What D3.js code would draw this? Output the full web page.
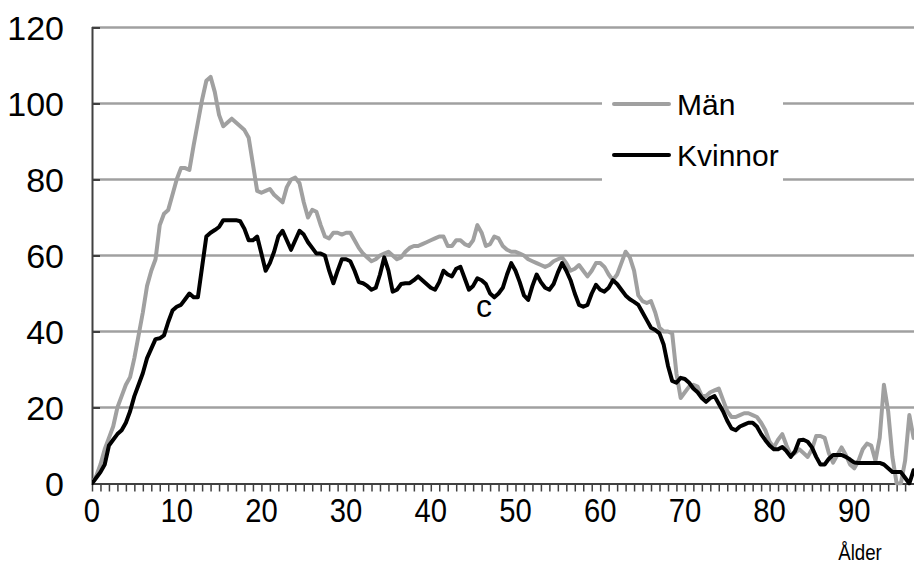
<!DOCTYPE html>
<html><head><meta charset="utf-8">
<script src="https://cdn.jsdelivr.net/npm/d3@7"></script>
<style>body{margin:0;background:#fff}svg{display:block;font-family:"Liberation Sans",Arial,sans-serif}</style>
</head><body><svg id="c" width="914" height="567"></svg>
<script>
const ageStep = 0.5;
const ages = d3.range(0, 97.01, ageStep);
const yTicks = [0, 20, 40, 60, 80, 100, 120];
const xTickLabels = [0, 10, 20, 30, 40, 50, 60, 70, 80, 90];
const seriesNames = ["Män", "Kvinnor"];
const man = [0,2,5,9,12,15,20,23,26,28,33,39,45,52,56,59,68,71,72,76,80,83,83,82.5,89,95,101,106,107,103,97,94,95,96,95,94,93,91,84,77,76.5,77,77.5,76,75,74,78,80,80.5,79,74,70,72,71.5,68,65,64.5,66,66,65.5,66,66,64,62,60.5,59.5,58.5,59,60,60.5,61,60,59,59.5,61,62,62.5,62.5,63,63.5,64,64.5,65,65,62.5,62.5,64,64,63,62.5,64,68,66,62.5,63,65,64.5,62.5,61.5,61,61,60.5,60,59,58.5,58,57.5,57,57.5,58.5,59,59.5,58,56,56.5,57.5,56,54.5,56,58,58,57,55,53.5,55,58,61,59.5,56,49.5,48,47.5,48,45,41,40,40,39.5,29,22.5,24,25.5,26,25.5,23,23,24,24.5,25,22,19,17.5,17.5,18,18.5,18.5,18,17.5,16,14,11,9.5,11.5,13,10,7.5,8,9,8,7,9,12.5,12.5,12,8,5.5,7.5,9.5,7.5,5,4,6,9,10.5,10,6,12,26,19,7,0,0,6,18,12];
const kvinnor = [0,1.5,3,5,10,11.5,13,14,16,19,23,26,29,33,35.5,38,38.2,39,42.5,45.5,46.5,47,48.5,50,49,49,57,65,66,66.7,67.5,69.3,69.3,69.3,69.3,69,67,64,64,65,60.5,56,58,61,65,66.5,64,61.5,64,66.5,65.5,63.5,62,60.5,60.5,60,56,52.7,56,59,59,58.5,56,53,52.7,52,51,51.5,55,59.5,56,50.5,51,52.5,52.7,52.7,53.5,54.5,53.5,52.5,51.5,51,53,56,55,54.5,56.5,57,54,51,52,54,53.5,52.5,50,49,50,51.5,55,58,56,53,49.5,48.3,52,55,53,51.5,51,52.5,55.5,58,56,53.5,50,47,46.5,47,50,52.3,51,50.5,51.5,53.5,52.5,51,49.5,48.5,47.8,47,45,43,41,40.4,39.5,36.5,31,27,26.5,27.8,27.5,26.5,25,24,22.5,21.5,22.5,23,21,19,16.5,14.5,14,15,15.5,16,16,15,13,11.4,10,9,9,9.6,8.5,7,8.5,11.4,11.5,11,9.5,7,5,5,6.5,7.5,7.5,7.5,7,6.3,5.5,5.4,5.4,5.4,5.4,5.4,5.4,5,4,3,3,3,1.5,0,3.5];
const colors = ["#a0a0a0", "#000000"];

const svg = d3.select("#c");
const L = 92, R = 914, T = 27.5, B = 483.5;
const x = d3.scaleLinear().domain([0, 97.05]).range([L, R]);
const y = d3.scaleLinear().domain([0, 120]).range([B, T]);

// gridlines
svg.append("g").selectAll("line").data(yTicks.filter(d => d > 0)).join("line")
  .attr("x1", L).attr("x2", R).attr("y1", d => y(d)).attr("y2", d => y(d))
  .attr("stroke", "#a0a0a0").attr("stroke-width", 2.5);

// y axis
const yAxis = svg.append("g").attr("transform", `translate(${L},0)`)
  .call(d3.axisRight(y).tickValues(yTicks).tickSize(8).tickFormat(""));
yAxis.select(".domain").attr("stroke", "#404040").attr("stroke-width", 2);
yAxis.selectAll(".tick line").attr("stroke", "#404040").attr("stroke-width", 2);

svg.append("g").selectAll("text").data(yTicks).join("text")
  .attr("x", 64).attr("y", d => y(d) + 12)
  .attr("text-anchor", "end").attr("font-size", 34).attr("fill", "#000")
  .text(d => d);

// x axis
const xAxis = svg.append("g").attr("transform", `translate(0,${B})`)
  .call(d3.axisBottom(x).tickValues(d3.range(0, 97, 1)).tickSize(8).tickFormat("").tickSizeOuter(0));
xAxis.select(".domain").attr("stroke", "#404040").attr("stroke-width", 2);
xAxis.selectAll(".tick line").attr("stroke", "#404040").attr("stroke-width", 1.5);

svg.append("g").selectAll("text").data(xTickLabels).join("text")
  .attr("transform", d => `translate(${x(d)},522) scale(0.86,1)`)
  .attr("text-anchor", "middle").attr("font-size", 34).attr("fill", "#000")
  .text(d => d);

svg.append("text").attr("transform", "translate(860,560) scale(0.85,1)")
  .attr("text-anchor", "middle").attr("font-size", 22).attr("fill", "#000").text("Ålder");

// lines
svg.append("clipPath").attr("id", "clip").append("rect")
  .attr("x", L).attr("y", 0).attr("width", R - L).attr("height", B + 2);
const line = d3.line().x((d, i) => x(ages[i])).y(d => y(d));
[man, kvinnor].forEach((s, i) => {
  svg.append("path").datum(s).attr("d", line).attr("clip-path", "url(#clip)")
    .attr("fill", "none").attr("stroke", colors[i]).attr("stroke-width", 4)
    .attr("stroke-linejoin", "round").attr("stroke-linecap", "round");
});

// annotation
svg.append("text").attr("x", 484).attr("y", 317).attr("text-anchor", "middle")
  .attr("font-size", 32).attr("fill", "#000").text("c");

// legend
const lg = svg.append("g");
lg.append("rect").attr("x", 602).attr("y", 86).attr("width", 181).attr("height", 104).attr("fill", "#fff");
seriesNames.forEach((n, i) => {
  const ly = 104 + i * 51;
  lg.append("line").attr("x1", 614).attr("x2", 669).attr("y1", ly).attr("y2", ly)
    .attr("stroke", colors[i]).attr("stroke-width", 4).attr("stroke-linecap", "round");
  lg.append("text").attr("x", 677).attr("y", ly + 11).attr("font-size", 30).attr("fill", "#000").text(n);
});
</script></body></html>
